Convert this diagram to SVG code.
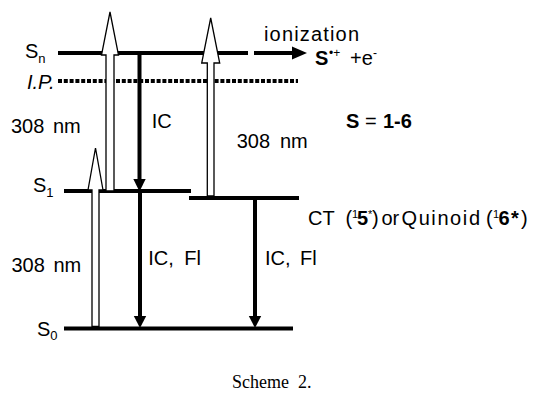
<svg xmlns="http://www.w3.org/2000/svg" width="542" height="393" viewBox="0 0 542 393">
<style>
.t{font-family:"Liberation Sans",Arial,sans-serif;font-size:20px;fill:#000}
.sub{font-size:13px}
.sup{font-size:12px}
.sm{font-size:11px}
.b{font-weight:bold}
.lvl{stroke:#000;stroke-width:4;fill:none}
.hollow{fill:#fff;stroke:#000;stroke-width:1.3;stroke-linejoin:miter}
.solid{stroke:#000;stroke-width:4;fill:none}
.head{fill:#000}
.cap{font-family:"Liberation Serif","Times New Roman",serif;font-size:18px;fill:#000}
</style>
<rect width="542" height="393" fill="#fff"/>
<g id="level-Sn">
<line class="lvl" x1="58" y1="53" x2="248" y2="53"/>
<text class="t" x="25" y="58">S<tspan class="sub" dy="5">n</tspan></text>
</g>
<g id="level-IP">
<line class="lvl" x1="58" y1="81" x2="298" y2="81" stroke-width="3.4" stroke-dasharray="4 1.8"/>
<text class="t" x="27" y="89" font-style="italic">I.P.</text>
</g>
<g id="level-S1">
<line class="lvl" x1="64" y1="191" x2="191" y2="191"/>
<text class="t" x="33" y="192">S<tspan class="sub" dy="5">1</tspan></text>
</g>
<g id="level-CT">
<line class="lvl" x1="189" y1="198" x2="299" y2="198"/>
<text class="t" y="225"><tspan x="308">CT</tspan><tspan x="345.5">(</tspan><tspan class="sm" x="352" dy="-7">1</tspan><tspan class="b" x="357" dy="7">5</tspan><tspan class="sm" x="368" dy="-7">*</tspan><tspan x="372" dy="7">)</tspan><tspan x="381.5">or</tspan><tspan x="401.5" textLength="78.5">Quinoid</tspan><tspan x="486">(</tspan><tspan class="sm" x="493" dy="-7">1</tspan><tspan class="b" x="498.5" dy="7">6</tspan><tspan class="b" x="511">*</tspan><tspan x="521">)</tspan></text>
</g>
<g id="level-S0">
<line class="lvl" x1="64" y1="328.5" x2="293" y2="328.5"/>
<text class="t" x="37" y="336">S<tspan class="sub" dy="4">0</tspan></text>
</g>
<g id="ion-product">
<text class="t" x="264" y="41" textLength="95">ionization</text>
<text class="t" y="65"><tspan class="b" x="315">S</tspan><tspan class="sup" x="329" dy="-8">•+</tspan><tspan x="350" dy="8">+e</tspan><tspan class="sup" x="373" dy="-8">-</tspan></text>
</g>
<g id="label-S">
<text class="t" y="128"><tspan class="b" x="346">S</tspan><tspan x="365">=</tspan><tspan class="b" x="383">1-6</tspan></text>
</g>
<g id="labels">
<text class="t" y="133"><tspan x="11">308</tspan><tspan x="53">nm</tspan></text>
<text class="t" y="148"><tspan x="236.7">308</tspan><tspan x="280">nm</tspan></text>
<text class="t" y="272"><tspan x="11.5">308</tspan><tspan x="53.5">nm</tspan></text>
<text class="t" x="151.7" y="127.5">IC</text>
<text class="t" y="265"><tspan x="148.3">IC,</tspan><tspan x="184.3">Fl</tspan></text>
<text class="t" y="265"><tspan x="265">IC,</tspan><tspan x="300">Fl</tspan></text>
</g>
<g id="connectors">
<path class="hollow" d="M106,191 V55 H101.5 L110,12 L118.5,55 H114 V191 Z"/>
<path class="hollow" d="M92,326.5 V190 H88 L95.5,148 L103,190 H99 V326.5 Z"/>
<path class="hollow" d="M207.3,196 V63 H201.7 L210.7,18 L219.7,63 H214 V196 Z"/>
<line class="solid" x1="139.5" y1="55" x2="139.5" y2="180"/>
<polygon class="head" points="133.3,179 145.7,179 139.5,191.5"/>
<line class="solid" x1="140" y1="191" x2="140" y2="317"/>
<polygon class="head" points="133.8,316 146.2,316 140,328"/>
<line class="solid" x1="255" y1="198" x2="255" y2="317"/>
<polygon class="head" points="248.8,316 261.2,316 255,328"/>
<line class="solid" x1="254" y1="53" x2="293" y2="53"/>
<polygon class="head" points="292,46.5 292,59.5 307,53"/>
</g>
<text class="cap" y="388"><tspan x="232">Scheme</tspan><tspan x="298">2.</tspan></text>
</svg>
